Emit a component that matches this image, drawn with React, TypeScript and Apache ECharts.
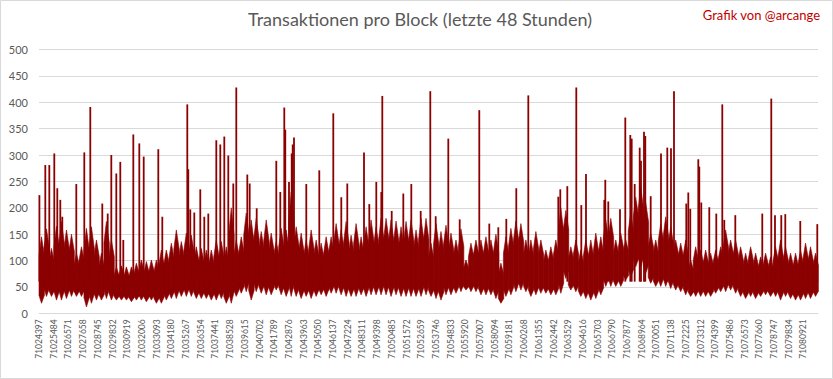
import React, { useEffect, useRef } from "react";
import * as echarts from "echarts";

// first block of the 48h window and label spacing (blocks)
const START_BLOCK = 71024397;
const LABEL_STEP = 1087;
const TOTAL_BLOCKS = 57600;

// envelope of the dense per-block series, one entry per slice of the window
const SLICES = 156;
const highValues = [
  145, 160, 123, 165, 174, 158, 150, 114, 126, 161, 164, 139, 114, 174, 139, 88, 90, 88, 88, 95,
  101, 98, 101, 101, 120, 120, 133, 158, 136, 152, 148, 126, 123, 120, 120, 139, 136, 126, 200, 139,
  145, 190, 177, 180, 155, 177, 152, 136, 161, 158, 230, 164, 152, 139, 158, 139, 133, 145, 145, 170,
  158, 174, 148, 170, 145, 164, 177, 164, 180, 180, 177, 175, 164, 174, 177, 158, 180, 180, 133, 170,
  155, 167, 152, 139, 160, 101, 133, 139, 139, 145, 139, 150, 95, 145, 161, 175, 170, 139, 139, 155,
  139, 120, 126, 139, 200, 195, 126, 139, 120, 139, 139, 152, 145, 177, 180, 139, 152, 139, 190, 220,
  240, 210, 152, 139, 170, 183, 164, 139, 133, 139, 101, 126, 120, 120, 114, 120, 126, 158, 139, 139,
  126, 114, 126, 114, 107, 114, 107, 126, 139, 126, 114, 114, 120, 133, 126, 114,
];
const lowValues = [
  19, 32, 32, 25, 25, 28, 32, 32, 32, 12, 19, 25, 25, 28, 25, 25, 25, 25, 22, 25,
  25, 22, 25, 19, 19, 25, 28, 28, 32, 32, 32, 28, 28, 28, 25, 25, 28, 19, 19, 32,
  38, 41, 25, 41, 38, 35, 35, 44, 35, 32, 32, 32, 28, 32, 28, 32, 35, 32, 38, 38,
  35, 32, 32, 32, 35, 32, 35, 35, 35, 35, 32, 35, 32, 32, 32, 32, 32, 35, 32, 28,
  25, 35, 35, 38, 41, 44, 41, 41, 35, 35, 35, 28, 19, 32, 35, 41, 44, 41, 32, 35,
  38, 38, 35, 35, 38, 66, 44, 41, 32, 28, 25, 28, 35, 51, 51, 51, 51, 63, 69, 88,
  88, 76, 57, 51, 51, 51, 47, 44, 41, 35, 32, 32, 32, 32, 32, 38, 41, 41, 44, 38,
  32, 28, 32, 28, 32, 35, 32, 32, 25, 32, 28, 25, 25, 28, 28, 32,
];

// isolated peaks: block offset from START_BLOCK and transactions
const peakOffsets = [
  30, 466, 762, 1131, 1353, 1575, 1723, 2758, 3349, 3793, 4680, 5080, 5346, 5716, 6011, 6233, 6973, 7416, 7742, 8821,
  9117, 10965, 11039, 11187, 11483, 11926, 12222, 12518, 13110, 13405, 13701, 13997, 14366, 14588, 15402, 15579, 16097, 17546, 17842, 18137,
  18211, 18485, 18685, 18759, 18855, 19764, 20725, 21760, 22352, 22795, 24031, 24422, 24940, 25310, 25384, 26079, 26937, 27529, 28223, 28933,
  29331, 30264, 31106, 32555, 33295, 33961, 34553, 35292, 36180, 38397, 38545, 39063, 39728, 40098, 40445, 41798, 41872, 42094, 42959, 43351,
  43721, 43824, 44046, 44416, 44512, 44734, 44830, 45229, 45991, 46456, 46730, 46952, 47861, 48009, 48157, 48749, 48823, 48970, 49562, 50080,
  50523, 50671, 51485, 53480, 54146, 54420, 54885, 55181, 56290, 57547,
];
const peakValues = [
  224, 281, 281, 303, 237, 215, 183, 245, 305, 391, 208, 189, 300, 265, 287, 139, 339, 322, 297, 311,
  183, 396, 273, 197, 191, 235, 183, 189, 328, 320, 335, 299, 246, 428, 263, 246, 199, 289, 230, 390,
  348, 249, 303, 320, 333, 245, 271, 379, 220, 246, 305, 207, 249, 230, 412, 194, 227, 245, 194, 421,
  184, 331, 178, 385, 170, 163, 179, 237, 413, 221, 235, 241, 428, 205, 264, 215, 253, 212, 197, 371,
  338, 331, 245, 314, 289, 344, 336, 222, 303, 314, 313, 421, 208, 229, 198, 292, 278, 210, 201, 189,
  396, 177, 186, 189, 407, 186, 186, 188, 175, 169,
];

const RED = "#8B0000";
const FONT = "Lato, 'Liberation Sans', sans-serif";

export default function App() {
  const ref = useRef<HTMLDivElement>(null);

  useEffect(() => {
    document.body.style.margin = "0";
    const chart = echarts.init(ref.current!, null, { renderer: "svg" });
    const step = TOTAL_BLOCKS / SLICES;
    const bandData = highValues.map((h, i) => [i * step, (i + 1) * step, lowValues[i], h]);
    const peakData = peakOffsets.map((o, i) => [o, peakValues[i]]);

    chart.setOption({
      animation: false,
      backgroundColor: "#ffffff",
      grid: { left: 39, right: 15, top: 49.5, bottom: 65.7, containLabel: false },
      graphic: [
        {
          type: "rect",
          shape: { x: 0.5, y: 0.5, width: 832, height: 378 },
          style: { fill: "none", stroke: "#d9d9d9", lineWidth: 1 },
          silent: true,
        },
        {
          type: "text",
          x: 420,
          y: 19,
          style: {
            text: "Transaktionen pro Block (letzte 48 Stunden)",
            fill: "#595959",
            font: `18px ${FONT}`,
            textAlign: "center",
            textVerticalAlign: "middle",
          },
        },
        {
          type: "text",
          x: 820,
          y: 15,
          style: {
            text: "Grafik von @arcange",
            fill: "#c00000",
            font: `13px ${FONT}`,
            textAlign: "right",
            textVerticalAlign: "middle",
          },
        },
      ],
      xAxis: {
        type: "value",
        min: 0,
        max: TOTAL_BLOCKS,
        interval: LABEL_STEP,
        axisLine: { show: true, lineStyle: { color: "#d9d9d9" } },
        axisTick: { show: false },
        splitLine: { show: false },
        axisLabel: {
          rotate: 90,
          margin: 6,
          color: "#595959",
          fontFamily: FONT,
          fontSize: 8.5,
          showMaxLabel: false,
          formatter: (v: number) => (v % LABEL_STEP === 0 ? String(START_BLOCK + v) : ""),
        },
      },
      yAxis: {
        type: "value",
        min: 0,
        max: 500,
        interval: 50,
        axisLine: { show: false },
        axisTick: { show: false },
        splitLine: { lineStyle: { color: "#d9d9d9", width: 1 } },
        axisLabel: { color: "#595959", fontFamily: FONT, fontSize: 11, margin: 11 },
      },
      series: [
        {
          type: "custom",
          data: bandData,
          encode: { x: [0, 1], y: [2, 3] },
          renderItem: (_p: any, api: any) => {
            const x0 = api.value(0);
            const x1 = api.value(1);
            const lo = api.value(2);
            const hi = api.value(3);
            const xm = (x0 + x1) / 2;
            const coreTop = hi - (hi - lo) * 0.28;
            const coreBot = lo + (hi - lo) * 0.12;
            const pts = [
              api.coord([x0, coreTop]),
              api.coord([xm, hi]),
              api.coord([x1, coreTop]),
              api.coord([x1, coreBot]),
              api.coord([xm, lo]),
              api.coord([x0, coreBot]),
            ];
            pts[2][0] += 0.4;
            pts[3][0] += 0.4;
            return {
              type: "polygon",
              shape: { points: pts },
              style: { fill: RED, stroke: RED, lineWidth: 0.6 },
            };
          },
        },
        {
          type: "custom",
          data: peakData,
          encode: { x: 0, y: 1 },
          renderItem: (_p: any, api: any) => {
            const top = api.coord([api.value(0), api.value(1)]);
            const base = api.coord([api.value(0), 60]);
            return {
              type: "rect",
              shape: { x: top[0] - 0.9, y: top[1], width: 1.8, height: base[1] - top[1] },
              style: { fill: RED },
            };
          },
        },
      ],
    });
    return () => chart.dispose();
  }, []);

  return (
    <div
      ref={ref}
      style={{ position: "absolute", left: 0, top: 0, width: 833, height: 379 }}
    />
  );
}
